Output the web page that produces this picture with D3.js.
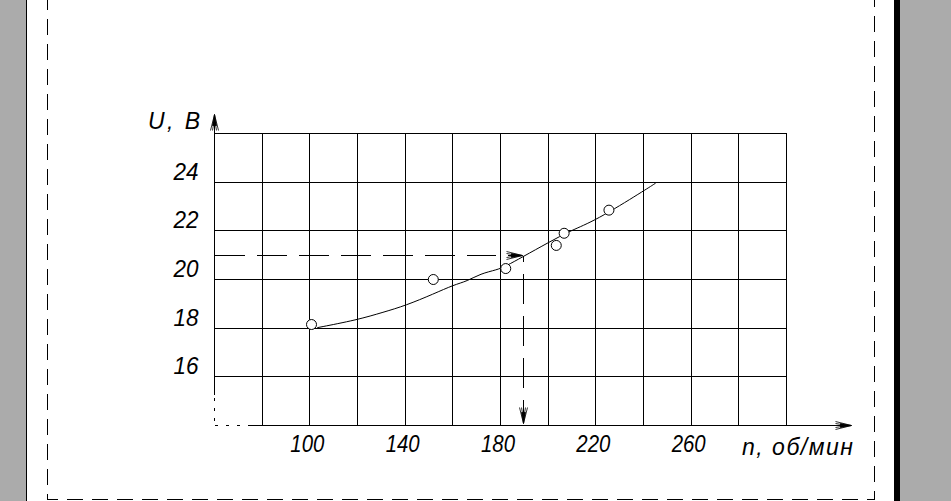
<!DOCTYPE html>
<html><head><meta charset="utf-8">
<script src="https://cdn.jsdelivr.net/npm/d3@7"></script>
<style>html,body{margin:0;padding:0;background:#fff;}svg{display:block;}</style>
</head><body>
<script>
// ---- data ----
const xTickLabels = [100, 140, 180, 220, 260];
const yTickLabels = [16, 18, 20, 22, 24];
const xGrid = [60, 80, 100, 120, 140, 160, 180, 200, 220, 240, 260, 280, 300];
const yGrid = [14, 16, 18, 20, 22, 24, 26];
const pointN = [100.7, 151.8, 182.2, 203.4, 206.7, 225.5];
const pointU = [18.15, 20.0, 20.45, 21.4, 21.9, 22.85];
const curveN = [103.1, 119.9, 131.0, 140.2, 152.0, 160.4, 166.0, 171.6, 178.6, 182.1, 189.1, 200.3, 209.4, 219.9, 240.2, 245.1];
const curveU = [18.02, 18.34, 18.66, 18.93, 19.41, 19.78, 19.93, 20.24, 20.40, 20.54, 20.92, 21.53, 22.01, 22.42, 23.65, 23.96];
const readN = 189.8, readU = 21;
const yTitle = "U, В";
const xTitle = "n, об/мин";

const W = 951, H = 501;
const svg = d3.select("body").append("svg").attr("width", W).attr("height", H);

// page background
svg.append("rect").attr("x", 0).attr("y", 0).attr("width", W).attr("height", H).attr("fill", "#fff");
svg.append("rect").attr("x", 0).attr("y", 0).attr("width", 26).attr("height", H).attr("fill", "#ababab");
svg.append("rect").attr("x", 26).attr("y", 0).attr("width", 1).attr("height", H).attr("fill", "#000");
svg.append("rect").attr("x", 894).attr("y", 0).attr("width", 6).attr("height", H).attr("fill", "#000");
svg.append("rect").attr("x", 900).attr("y", 0).attr("width", 51).attr("height", H).attr("fill", "#ababab");

// dashed frame
const frame = svg.append("g").attr("stroke", "#000").attr("stroke-width", 1).attr("fill", "none")
  .attr("stroke-dasharray", "16,9").attr("shape-rendering", "crispEdges");
frame.append("path").attr("d", "M47.5,-6 V499.5 H874.5 V-6");

// scales
const x = d3.scaleLinear().domain([60, 300]).range([214, 786]);
const y = d3.scaleLinear().domain([14, 26]).range([425, 133]);

const g = svg.append("g").attr("transform", "translate(0.5,0.5)");

// grid
const grid = g.append("g").attr("stroke", "#000").attr("stroke-width", 1).attr("shape-rendering", "crispEdges");
xGrid.slice(1).forEach(v => {
  grid.append("line").attr("x1", Math.round(x(v))).attr("x2", Math.round(x(v)))
    .attr("y1", Math.round(y(26))).attr("y2", Math.round(y(14)));
});
yGrid.slice(1).forEach(v => {
  grid.append("line").attr("x1", Math.round(x(60))).attr("x2", Math.round(x(300)))
    .attr("y1", Math.round(y(v))).attr("y2", Math.round(y(v)));
});

// axes
const ax = g.append("g").attr("stroke", "#000").attr("stroke-width", 1).attr("shape-rendering", "crispEdges");
const x0 = Math.round(x(60)), y0 = Math.round(y(14));
ax.append("line").attr("x1", x0).attr("x2", x0).attr("y1", 115).attr("y2", 394);
ax.append("line").attr("x1", x0).attr("x2", x0).attr("y1", 397).attr("y2", y0).attr("stroke-dasharray", "3,7");
ax.append("line").attr("x1", x0).attr("x2", 245).attr("y1", y0).attr("y2", y0).attr("stroke-dasharray", "3,8");
ax.append("line").attr("x1", 247).attr("x2", 850).attr("y1", y0).attr("y2", y0);

function arrow(tx, ty, dir) {
  const a = g.append("g").attr("transform", `translate(${tx},${ty}) rotate(${dir})`);
  a.append("path").attr("d", "M0,0 L-11,-2 L-11,2 Z").attr("fill", "#000").attr("stroke", "#000").attr("stroke-width", 0.8);
  a.append("path").attr("d", "M0,0 L-16,-4 M0,0 L-16,4 M-4,0 L-16,-2 M-4,0 L-16,2").attr("stroke", "#000").attr("stroke-width", 0.8).attr("fill", "none");
}
arrow(x0, 114, -90);
arrow(851, y0, 0);

// dashed reading lines
const rd = g.append("g").attr("stroke", "#000").attr("stroke-width", 1).attr("fill", "none").attr("shape-rendering", "crispEdges");
const ry = Math.round(y(readU)), rx = Math.round(x(readN));
rd.append("line").attr("x1", x0).attr("x2", rx - 2).attr("y1", ry).attr("y2", ry).attr("stroke-dasharray", "30,12");
rd.append("line").attr("x1", rx).attr("x2", rx).attr("y1", ry).attr("y2", y0 - 3).attr("stroke-dasharray", "30,12").attr("stroke-dashoffset", -18);
arrow(rx - 1, ry, 0);
arrow(rx, y0 - 2, 90);

// curve
const curvePts = curveN.map((n, i) => [x(n), y(curveU[i])]);
g.append("path").attr("d", d3.line().curve(d3.curveBasis)(curvePts))
  .attr("fill", "none").attr("stroke", "#000").attr("stroke-width", 1);

// points
g.append("g").selectAll("circle").data(pointN.map((n, i) => [n, pointU[i]])).join("circle")
  .attr("cx", d => x(d[0])).attr("cy", d => y(d[1])).attr("r", 5)
  .attr("fill", "#fff").attr("stroke", "#000").attr("stroke-width", 1);

// labels
const font = "'Liberation Sans', Arial, sans-serif";
const lab = svg.append("g").attr("font-family", font).attr("font-style", "italic").attr("fill", "#000");
yTickLabels.forEach(v => {
  lab.append("text").attr("x", 186).attr("y", y(v) - 2).attr("text-anchor", "middle")
    .attr("font-size", 24).attr("textLength", 25).attr("lengthAdjust", "spacingAndGlyphs").text(v);
});
xTickLabels.forEach(v => {
  lab.append("text").attr("x", x(v) - 2).attr("y", 452).attr("text-anchor", "middle")
    .attr("font-size", 24).attr("textLength", 34).attr("lengthAdjust", "spacingAndGlyphs").text(v);
});
lab.append("text").attr("x", 148).attr("y", 129).attr("font-size", 23)
  .attr("textLength", 52).attr("lengthAdjust", "spacing").text(yTitle);
lab.append("text").attr("x", 742).attr("y", 455).attr("font-size", 23)
  .attr("textLength", 111).attr("lengthAdjust", "spacing").text(xTitle);
</script>
</body></html>
